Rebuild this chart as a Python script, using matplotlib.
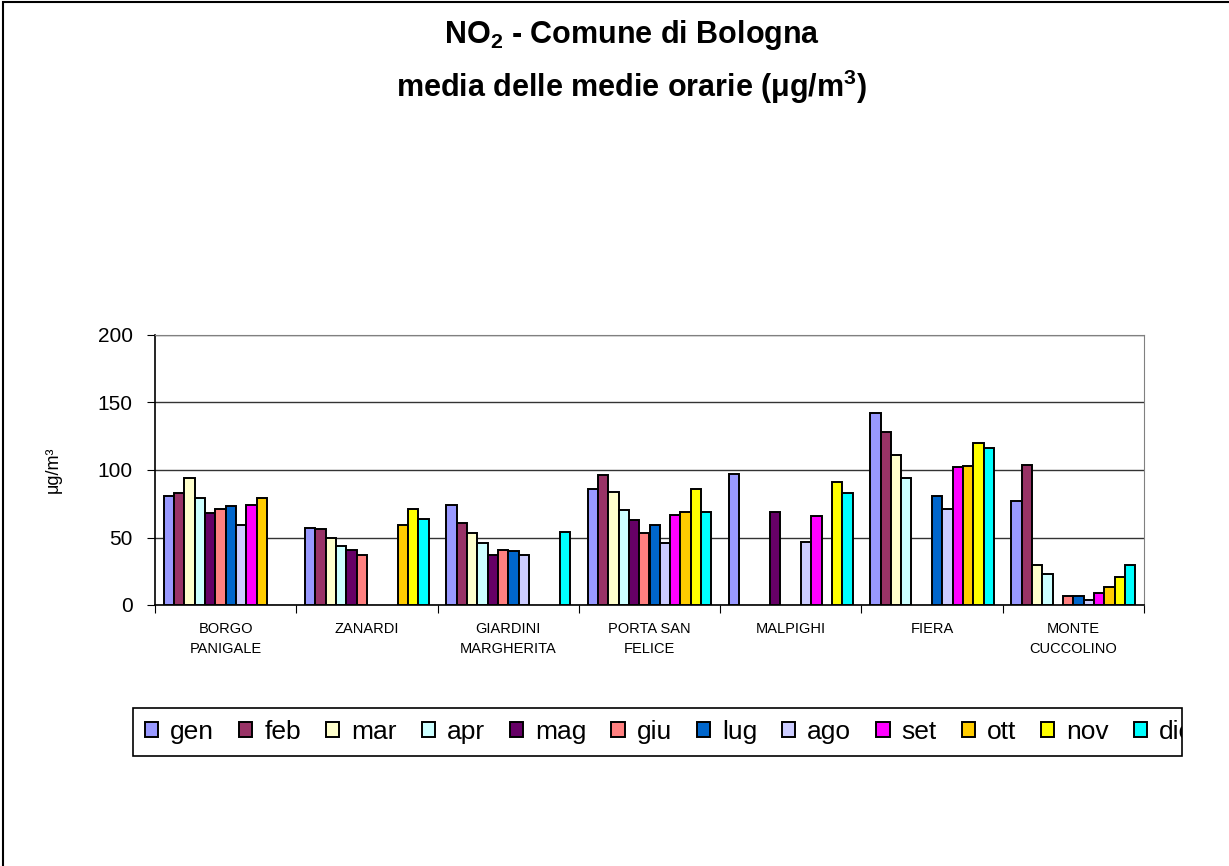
import numpy as np
import matplotlib.pyplot as plt
from matplotlib.patches import Rectangle

plt.rcParams['font.family'] = ['Liberation Sans', 'DejaVu Sans']
plt.rcParams['mathtext.fontset'] = 'custom'
plt.rcParams['mathtext.rm'] = 'Liberation Sans'
plt.rcParams['mathtext.bf'] = 'Liberation Sans:bold'

stations = ["BORGO\nPANIGALE", "ZANARDI", "GIARDINI\nMARGHERITA", "PORTA SAN\nFELICE",
            "MALPIGHI", "FIERA", "MONTE\nCUCCOLINO"]
months = ["gen", "feb", "mar", "apr", "mag", "giu", "lug", "ago", "set", "ott", "nov", "dic"]
colors = ["#9999FF", "#993366", "#FFFFCC", "#CCFFFF", "#660066", "#FF8080",
          "#0066CC", "#CCCCFF", "#FF00FF", "#FFCC00", "#FFFF00", "#00FFFF"]

nan = np.nan
# one row per station, one column per month (µg/m3)
borgo_panigale = [81, 83, 94, 79, 68, 71, 73, 59, 74, 79, nan, nan]
zanardi = [57, 56, 50, 44, 41, 37, nan, nan, nan, 59, 71, 64]
giardini_margherita = [74, 61, 53, 46, 37, 41, 40, 37, nan, nan, nan, 54]
porta_san_felice = [86, 96, 84, 70, 63, 53, 59, 46, 67, 69, 86, 69]
malpighi = [97, nan, nan, nan, 69, nan, nan, 47, 66, nan, 91, 83]
fiera = [142, 128, 111, 94, nan, nan, 81, 71, 102, 103, 120, 116]
monte_cuccolino = [77, 104, 30, 23, nan, 7, 7, 4, 9, 13, 21, 30]

data = np.array([borgo_panigale, zanardi, giardini_margherita, porta_san_felice,
                 malpighi, fiera, monte_cuccolino], dtype=float)

W, H = 1229, 866
fig = plt.figure(figsize=(W / 100, H / 100), dpi=100)
ax = fig.add_axes([155 / W, 1 - 605 / H, (1144 - 155) / W, (605 - 335) / H])

x = np.arange(len(stations))
w = 0.073
for i, m in enumerate(months):
    ax.bar(x + (i - 5.5) * w, data[:, i], width=w, color=colors[i],
           edgecolor='black', linewidth=1.4, label=m, zorder=3)

ax.set_xlim(-0.5, len(stations) - 0.5)
ax.set_ylim(0, 200)
ax.set_yticks([0, 50, 100, 150, 200])
ax.tick_params(axis='y', labelsize=15, length=6, direction='out', pad=10)
ax.yaxis.grid(True, color='#333333', linewidth=1, zorder=0)

ax.set_xticks(np.arange(len(stations) + 1) - 0.5)
ax.set_xticklabels([])
ax.set_xticks(x, minor=True)
ax.set_xticklabels(stations, minor=True, fontsize=10.5, linespacing=1.6)
ax.tick_params(axis='x', which='major', length=6, direction='out')
ax.tick_params(axis='x', which='minor', length=0, pad=12)

for s in ['top', 'right']:
    ax.spines[s].set_color('#808080')
ax.spines['left'].set_linewidth(1.2)
ax.spines['bottom'].set_linewidth(1.2)

ax.set_ylabel("μg/m³", fontsize=13, labelpad=26)

fig.text(0.514, 1 - 43 / H, r"NO$_\mathbf{2}$ - Comune di Bologna", ha='center',
         va='baseline', fontsize=22, fontweight='bold')
fig.text(0.514, 1 - 97.5 / H, r"media delle medie orarie (μg/m$^\mathbf{3}$)", ha='center',
         va='baseline', fontsize=22, fontweight='bold')

# legend: frame drawn separately, last entry cut off at the frame edge as in the original
leg = fig.legend(loc='center left', bbox_to_anchor=(120 / W, 1 - 732 / H), ncol=12,
                 fontsize=19, frameon=False, handlelength=0.5, handleheight=0.5,
                 handletextpad=0.45, columnspacing=0.95, borderpad=0.45)
for h in leg.legend_handles:
    h.set_edgecolor('black')
    h.set_linewidth(1.4)
clip = Rectangle((0, 0), 1182 / W, 1, transform=fig.transFigure)
for t in leg.get_texts():
    t.set_clip_path(clip)
    t.set_clip_on(True)
fig.add_artist(Rectangle((133 / W, 1 - 756 / H), (1182 - 133) / W, 48 / H,
                         transform=fig.transFigure, fill=False, edgecolor='black',
                         linewidth=1.2))

fig.add_artist(Rectangle((3 / W, -0.1), 1.2, 1.1 - 2 / H, transform=fig.transFigure,
                         fill=False, edgecolor='black', linewidth=1.5))

fig.savefig("out.png", dpi=100)
